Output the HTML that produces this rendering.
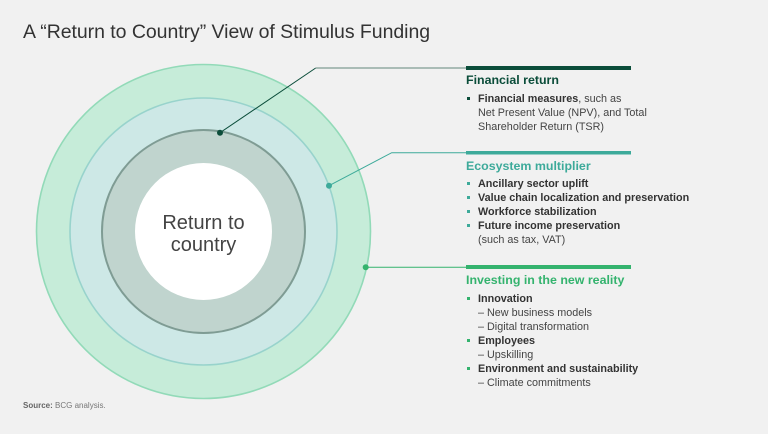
<!DOCTYPE html>
<html>
<head>
<meta charset="utf-8">
<style>
  html, body { margin:0; padding:0; }
  body { width:768px; height:434px; background:#f1f1f1; position:relative; overflow:hidden;
         font-family:"Liberation Sans", Arial, sans-serif; }
  .t { position:absolute; white-space:nowrap; }
  .title { left:23px; top:23px; font-size:19.5px; line-height:1; color:#333; letter-spacing:-0.05px; }
  .h { position:absolute; left:466px; font-size:12.4px; font-weight:bold; white-space:nowrap; }
  .list { position:absolute; left:466px; font-size:10.8px; color:#444; line-height:14px; }
  .row { position:relative; padding-left:12px; white-space:nowrap; height:14px; }
  .row b { color:#333; }
  .bul::before { content:""; position:absolute; left:1px; top:5px; width:3px; height:3px; }
  .b1::before { background:#0b4d3a; }
  .b2::before { background:#3daa9a; }
  .b3::before { background:#34b36e; }
  .src { left:23px; top:401px; font-size:8px; color:#777; }
  .src b { color:#666; }
</style>
</head>
<body>
<svg width="768" height="434" style="position:absolute;left:0;top:0">
  <circle cx="203.5" cy="231.5" r="167" fill="#c6ecd9" stroke="#92dab8" stroke-width="1.6"/>
  <circle cx="203.5" cy="231.5" r="133.5" fill="#cde8e6" stroke="#98d3cc" stroke-width="1.6"/>
  <circle cx="203.5" cy="231.5" r="101.5" fill="#c0d4ce" stroke="#7f9c94" stroke-width="2"/>
  <circle cx="203.5" cy="231.5" r="68.5" fill="#ffffff"/>
  <text x="203.5" y="229" text-anchor="middle" font-family="Liberation Sans, Arial, sans-serif" font-size="20" fill="#444">Return to</text>
  <text x="203.5" y="251" text-anchor="middle" font-family="Liberation Sans, Arial, sans-serif" font-size="20" fill="#444">country</text>

  <!-- connector 1 -->
  <line x1="220" y1="132.7" x2="315.7" y2="68" stroke="#0b4d3a" stroke-width="1"/>
  <line x1="315.7" y1="68" x2="466" y2="68" stroke="#7f9c94" stroke-width="1.2"/>
  <circle cx="220" cy="132.7" r="3" fill="#0b4d3a"/>
  <rect x="466" y="66" width="165" height="4" fill="#0b4d3a"/>

  <!-- connector 2 -->
  <polyline points="329,185.7 391.7,152.7 466,152.7" fill="none" stroke="#3daa9a" stroke-width="1"/>
  <circle cx="329" cy="185.7" r="3" fill="#3daa9a"/>
  <rect x="466" y="151" width="165" height="3.5" fill="#3daa9a"/>

  <!-- connector 3 -->
  <line x1="365.7" y1="267.3" x2="466" y2="267.3" stroke="#34b36e" stroke-width="1"/>
  <circle cx="365.7" cy="267.3" r="3" fill="#34b36e"/>
  <rect x="466" y="265" width="165" height="4" fill="#34b36e"/>
</svg>

<div class="t title">A “Return to Country” View of Stimulus Funding</div>

<div class="h" style="top:73px;color:#0b4d3a;">Financial return</div>
<div class="list" style="top:92px;">
  <div class="row bul b1"><b>Financial measures</b>, such as</div>
  <div class="row">Net Present Value (NPV), and Total</div>
  <div class="row">Shareholder Return (TSR)</div>
</div>

<div class="h" style="top:159px;color:#3daa9a;">Ecosystem multiplier</div>
<div class="list" style="top:177px;">
  <div class="row bul b2"><b>Ancillary sector uplift</b></div>
  <div class="row bul b2"><b>Value chain localization and preservation</b></div>
  <div class="row bul b2"><b>Workforce stabilization</b></div>
  <div class="row bul b2"><b>Future income preservation</b></div>
  <div class="row">(such as tax, VAT)</div>
</div>

<div class="h" style="top:273px;color:#34b36e;">Investing in the new reality</div>
<div class="list" style="top:292px;">
  <div class="row bul b3"><b>Innovation</b></div>
  <div class="row">– New business models</div>
  <div class="row">– Digital transformation</div>
  <div class="row bul b3"><b>Employees</b></div>
  <div class="row">– Upskilling</div>
  <div class="row bul b3"><b>Environment and sustainability</b></div>
  <div class="row">– Climate commitments</div>
</div>

<div class="t src"><b>Source:</b> BCG analysis.</div>
</body>
</html>
